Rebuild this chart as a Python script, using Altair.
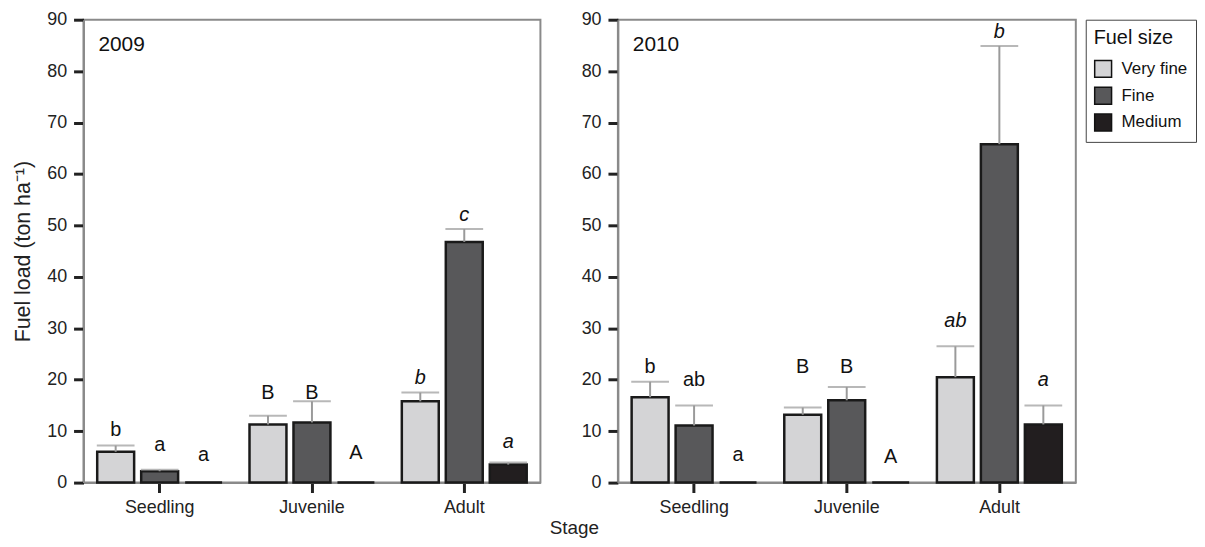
import altair as alt
import pandas as pd

years = ["2009", "2010"]
stages = ["Seedling", "Juvenile", "Adult"]
sizes = ["Very fine", "Fine", "Medium"]
colors = ["#d4d4d6", "#58585a", "#221e1f"]

# values ordered stage by stage: Very fine, Fine, Medium
mean_2009 = [6.0, 2.2, 0.0, 11.3, 11.7, 0.0, 15.8, 46.8, 3.5]
upper_2009 = [7.2, 2.5, 0.0, 13.0, 15.8, 0.0, 17.5, 49.3, 3.9]
letters_2009 = ["b", "a", "a", "B", "B", "A", "b", "c", "a"]
letter_pos_2009 = [10.2, 7.3, 5.4, 17.4, 17.4, 5.8, 20.3, 52.1, 7.9]

mean_2010 = [16.6, 11.1, 0.0, 13.2, 16.0, 0.0, 20.5, 65.8, 11.3]
upper_2010 = [19.6, 15.0, 0.0, 14.6, 18.6, 0.0, 26.5, 84.9, 15.0]
letters_2010 = ["b", "ab", "a", "B", "B", "A", "ab", "b", "a"]
letter_pos_2010 = [22.4, 19.9, 5.4, 22.4, 22.4, 5.0, 31.5, 87.6, 19.9]

rows = []
for yr, means, ups, labs, lpos in [
    ("2009", mean_2009, upper_2009, letters_2009, letter_pos_2009),
    ("2010", mean_2010, upper_2010, letters_2010, letter_pos_2010),
]:
    i = 0
    for st in stages:
        for sz in sizes:
            rows.append(dict(Year=yr, Stage=st, Size=sz, Mean=means[i],
                             Upper=ups[i], Letter=labs[i], LabelY=lpos[i]))
            i += 1
df = pd.DataFrame(rows)

FONT = "Liberation Sans"


def panel(yr, first, width):
    base = alt.Chart(df).transform_filter(alt.datum.Year == yr)
    x = alt.X("Stage:N", sort=stages,
              scale=alt.Scale(paddingInner=0.18, paddingOuter=0.09),
              axis=alt.Axis(title=None, labelAngle=0, tickSize=10, tickWidth=3,
                            tickColor="#222", domainColor="#8a8a8a", domainWidth=2,
                            labelFontSize=18, labelPadding=6, labelColor="#222"))
    xo = alt.XOffset("Size:N", sort=sizes,
                     scale=alt.Scale(paddingInner=0.16, paddingOuter=0))
    y_axis = alt.Axis(values=list(range(0, 91, 10)), tickSize=10, tickWidth=3,
                      tickColor="#222", domainColor="#8a8a8a", domainWidth=2,
                      labelFontSize=18, labelPadding=7, labelColor="#222",
                      grid=False,
                      title="Fuel load (ton ha\u207b\u00b9)" if first else None,
                      titleFontSize=21.5, titleFontWeight="normal", titleColor="#222",
                      titlePadding=12)
    y = alt.Y("Mean:Q", scale=alt.Scale(domain=[0, 90], nice=False), axis=y_axis)
    color = alt.Color("Size:N", sort=sizes,
                      scale=alt.Scale(domain=sizes, range=colors),
                      legend=alt.Legend(title="Fuel size"))
    bars = base.mark_bar(stroke="#1a1a1a", strokeWidth=2.5).encode(
        x=x, xOffset=xo, y=y, color=color)
    err = base.transform_filter("datum.Upper > datum.Mean")
    rules = err.mark_rule(color="#9a9a9a", strokeWidth=2).encode(
        x=x, xOffset=xo, y="Mean:Q", y2="Upper:Q")
    caps = err.mark_tick(color="#9a9a9a", thickness=2, size=38,
                         orient="horizontal").encode(x=x, xOffset=xo, y="Upper:Q")
    txt = base.transform_filter(alt.datum.Stage != "Adult").mark_text(
        fontSize=20, baseline="middle", color="#111", font=FONT).encode(
        x=x, xOffset=xo, y="LabelY:Q", text="Letter:N")
    txt_it = base.transform_filter(alt.datum.Stage == "Adult").mark_text(
        fontSize=20, baseline="middle", color="#111", fontStyle="italic",
        font=FONT).encode(x=x, xOffset=xo, y="LabelY:Q", text="Letter:N")
    yr_lab = alt.Chart(pd.DataFrame({"t": [yr]})).mark_text(
        align="left", baseline="middle", fontSize=21, color="#111", font=FONT
    ).encode(x=alt.value(15), y=alt.value(25), text="t:N")
    return alt.layer(bars, rules, caps, txt, txt_it, yr_lab).properties(
        width=width, height=466)


chart = alt.hconcat(
    panel("2009", True, 460), panel("2010", False, 461), spacing=38
).properties(
    title=alt.TitleParams("Stage", orient="bottom", anchor="middle", fontSize=19,
                          fontWeight="normal", color="#222", font=FONT, offset=2,
                          dx=-30)
).configure(
    font=FONT, padding={"left": 3, "top": 0, "right": 0, "bottom": 0}
).configure_view(
    stroke="#8a8a8a", strokeWidth=2
).configure_legend(
    orient="right", offset=9, strokeColor="#444", padding=8,
    titleFontSize=20, titleFontWeight="normal", titleColor="#111",
    labelFontSize=17, labelColor="#111", symbolType="square", symbolSize=289,
    symbolStrokeColor="#111", symbolStrokeWidth=1.5, rowPadding=4, titlePadding=12,
    labelOffset=9
)

chart.save("out.html", embed_options={"renderer": "svg", "actions": False})
